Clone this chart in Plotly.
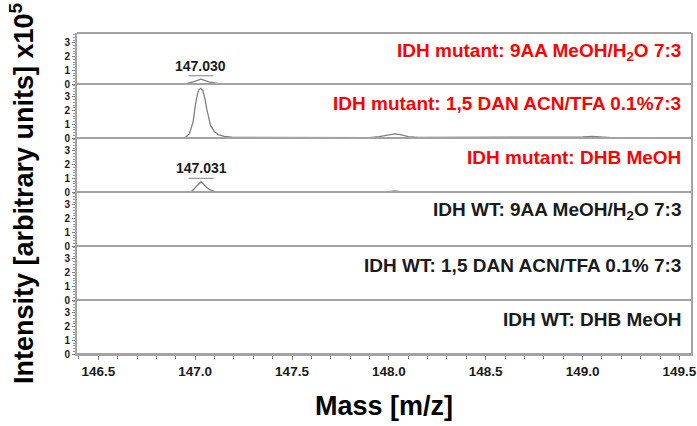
import plotly.graph_objects as go

# ---------------- data ----------------
panel_titles = [
    "IDH mutant: 9AA MeOH/H<sub>2</sub>O 7:3",
    "IDH mutant: 1,5 DAN ACN/TFA 0.1%7:3",
    "IDH mutant: DHB MeOH",
    "IDH WT: 9AA MeOH/H<sub>2</sub>O 7:3",
    "IDH WT: 1,5 DAN ACN/TFA 0.1% 7:3",
    "IDH WT: DHB MeOH",
]
title_colors = ["#ff0000", "#ff0000", "#ff0000", "#1a1a1a", "#1a1a1a", "#1a1a1a"]

mass_mut_9aa = [146.39, 146.95, 146.99, 147.03, 147.07, 147.12, 149.56]
int_mut_9aa = [0.0, 0.0, 0.15, 0.35, 0.15, 0.02, 0.0]

mass_mut_dan = [146.39, 146.90, 146.95, 146.97, 146.99, 147.00, 147.01, 147.02, 147.03,
                147.04, 147.05, 147.06, 147.07, 147.08, 147.10, 147.12, 147.15, 147.19,
                147.25, 147.50, 147.90, 147.95, 148.00, 148.03, 148.06, 148.10, 148.15,
                148.90, 149.00, 149.05, 149.10, 149.15, 149.56]
int_mut_dan = [0.02, 0.02, 0.05, 0.3, 1.2, 2.3, 3.1, 3.55, 3.62,
               3.45, 2.9, 2.1, 1.4, 0.9, 0.45, 0.25, 0.12, 0.06,
               0.04, 0.03, 0.03, 0.1, 0.25, 0.3, 0.25, 0.1, 0.04,
               0.03, 0.08, 0.12, 0.07, 0.03, 0.02]

mass_mut_dhb = [146.39, 146.98, 147.03, 147.07, 147.10, 147.14, 148.00, 148.03, 148.06, 149.56]
int_mut_dhb = [0.02, 0.02, 0.75, 0.2, 0.05, 0.03, 0.03, 0.08, 0.03, 0.02]

mass_wt_9aa = [146.39, 149.56]
int_wt_9aa = [0.0, 0.0]
mass_wt_dan = [146.39, 149.56]
int_wt_dan = [0.0, 0.0]
mass_wt_dhb = [146.39, 149.56]
int_wt_dhb = [0.0, 0.0]

masses = [mass_mut_9aa, mass_mut_dan, mass_mut_dhb, mass_wt_9aa, mass_wt_dan, mass_wt_dhb]
intensities = [int_mut_9aa, int_mut_dan, int_mut_dhb, int_wt_9aa, int_wt_dan, int_wt_dhb]

peak_panels = [0, 2]
peak_labels = ["147.030", "147.031"]
peak_masses = [147.030, 147.031]

x_tickvals = [146.5, 147.0, 147.5, 148.0, 148.5, 149.0, 149.5]
y_tickvals = [0, 1, 2, 3]

# ---------------- layout ----------------
W, H = 697, 426
ML, MR, MT, MB = 77, 6, 33, 72
PW, PH = W - ML - MR, H - MT - MB
bounds_px = [33, 84, 138, 192, 246, 300, 354]
px_per_unit = 13.7
FONT = "Arial, Liberation Sans, sans-serif"
GRID = "#a3a3a3"

def py(p):
    return (354 - p) / PH

fig = go.Figure()
layout = dict(
    width=W, height=H,
    margin=dict(l=ML, r=MR, t=MT, b=MB, autoexpand=False),
    paper_bgcolor="white", plot_bgcolor="white",
    showlegend=False,
    font=dict(family=FONT, color="#1a1a1a"),
)

for i in range(6):
    yname = "y" if i == 0 else f"y{i+1}"
    ykey = "yaxis" if i == 0 else f"yaxis{i+1}"
    fig.add_trace(go.Scatter(x=masses[i], y=intensities[i], mode="lines",
                             line=dict(color="#808080", width=1.3),
                             xaxis="x", yaxis=yname, hoverinfo="skip"))
    top, bot = bounds_px[i], bounds_px[i + 1]
    layout[ykey] = dict(
        domain=[py(bot), py(top)],
        range=[0, (bot - top) / px_per_unit],
        anchor="x", automargin=False,
        tickvals=y_tickvals,
        ticks="outside", ticklen=3, tickcolor="#808080",
        minor=dict(dtick=0.2, ticks="outside", ticklen=2, tickcolor="#999999"),
        showgrid=False, zeroline=False,
        showline=True, linecolor=GRID, linewidth=2, mirror=True,
        tickfont=dict(size=10, family=FONT, color="#1a1a1a", weight="bold"),
        fixedrange=True,
    )

layout["xaxis"] = dict(
    domain=[0, 1], anchor="y6", range=[146.39, 149.56], automargin=False,
    tickvals=x_tickvals, tickformat=".1f", ticklabeloverflow="allow",
    ticks="outside", ticklen=4, tickcolor="#808080",
    minor=dict(dtick=0.1, ticks="outside", ticklen=3, tickcolor="#808080"),
    showgrid=False, zeroline=False,
    showline=True, linecolor=GRID, linewidth=2,
    tickfont=dict(size=13.5, family=FONT, color="#1a1a1a", weight="bold"),
    title=dict(text="Mass [m/z]", font=dict(size=27, family=FONT, color="#000000", weight="bold"),
               standoff=18),
    fixedrange=True,
)

shapes = []
for p in bounds_px:
    shapes.append(dict(type="line", xref="paper", yref="paper", x0=0, x1=1,
                       y0=py(p), y1=py(p), line=dict(color=GRID, width=2)))

annotations = []
for i in range(6):
    annotations.append(dict(
        xref="paper", yref="paper", x=1 - 8 / PW, y=py(bounds_px[i] + 19),
        xanchor="right", yanchor="middle", showarrow=False,
        text=f"<b>{panel_titles[i]}</b>",
        font=dict(size=19, family=FONT, color=title_colors[i]),
    ))

for k, pi in enumerate(peak_panels):
    yname = "y" if pi == 0 else f"y{pi+1}"
    pk = max(intensities[pi])
    by = pk + 0.25
    shapes.append(dict(type="line", xref="x", yref=yname,
                       x0=peak_masses[k] - 0.065, x1=peak_masses[k] + 0.065,
                       y0=by, y1=by, line=dict(color="#808080", width=1)))
    annotations.append(dict(
        xref="x", yref=yname, x=peak_masses[k], y=by,
        xanchor="center", yanchor="bottom", showarrow=False, yshift=0,
        text=f"<b>{peak_labels[k]}</b>",
        font=dict(size=14, family=FONT, color="#1a1a1a"),
    ))

annotations.append(dict(
    xref="paper", yref="paper", x=-(ML - 22) / PW, y=py(194),
    xanchor="center", yanchor="middle", showarrow=False, textangle=-90,
    text="<b>Intensity [arbitrary units] x10<sup>5</sup></b>",
    font=dict(size=27, family=FONT, color="#000000"),
))

layout["shapes"] = shapes
layout["annotations"] = annotations
fig.update_layout(**layout)
fig.write_html("out.html", config={"displayModeBar": False, "staticPlot": True},
               post_script="document.body.style.margin='0px';document.body.style.overflow='hidden';")
